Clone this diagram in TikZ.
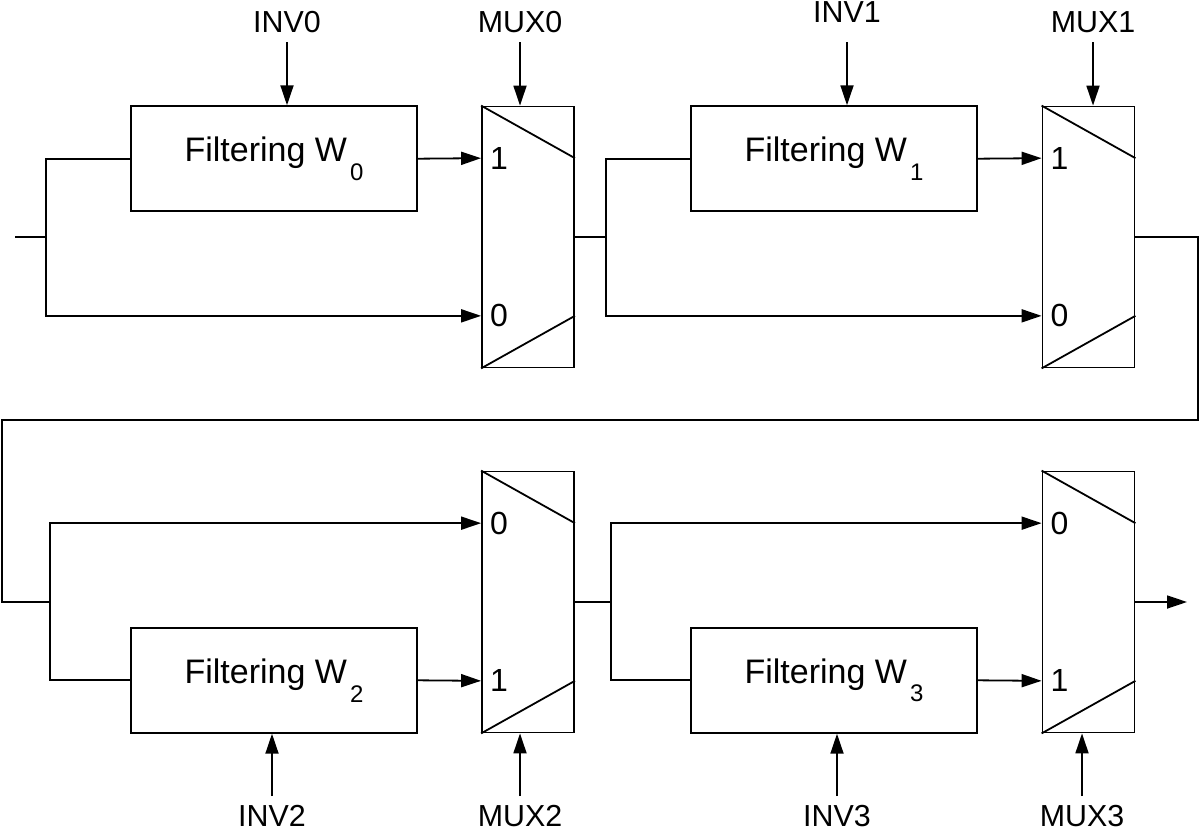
\documentclass[tikz,border=0pt]{standalone}
\usepackage{fontspec}
\setmainfont{Liberation Sans}
\usetikzlibrary{calc,arrows.meta}
\newcommand{\wsub}[1]{W\kern1.5pt\raisebox{-1.05ex}{\fontsize{12}{12}\selectfont #1}}

\begin{document}
\begin{tikzpicture}[x=0.5pt, y=-0.5pt, line width=0.9pt,
    filt/.style={draw, minimum width=143pt, minimum height=52.5pt, inner sep=0pt,
      font=\fontsize{17}{20}\selectfont},
    mux/.style={draw, minimum width=46pt, minimum height=130.5pt, inner sep=0pt},
    sel/.style={font=\fontsize{15.2}{16}\selectfont, inner sep=4pt},
    pin/.style={font=\fontsize{16}{16}\selectfont, anchor=west, inner sep=0pt, xshift=4pt},
    sig/.style={-{Triangle[length=10pt,width=6.5pt]}}]
  \useasboundingbox (0,0) rectangle (1200,830);

  % filters and muxes
  \node[filt] (w0) at (274,158.7) {Filtering \wsub{0}};
  \node[mux] (m0) at (528,237) {};
  \node[filt] (w1) at (834,158.7) {Filtering \wsub{1}};
  \node[mux] (m1) at (1088.5,237) {};
  \node[filt] (w2) at (274,680.3) {Filtering \wsub{2}};
  \node[mux] (m2) at (528,602) {};
  \node[filt] (w3) at (834,680.3) {Filtering \wsub{3}};
  \node[mux] (m3) at (1088.5,602) {};

  \foreach \m in {m0,m1,m2,m3} {
    \draw (\m.north west) -- ($(\m.north east)!0.2!(\m.south east)$);
    \draw (\m.south west) -- ($(\m.south east)!0.2!(\m.north east)$);
    \coordinate (\m-up) at ($(\m.north west)!0.2!(\m.south west)$);
    \coordinate (\m-dn) at ($(\m.north west)!0.8!(\m.south west)$);
  }

  % mux inputs
  \node[pin] at (m0-up) {1};
  \node[pin] at (m0-dn) {0};
  \node[pin] at (m1-up) {1};
  \node[pin] at (m1-dn) {0};
  \node[pin] at (m2-up) {0};
  \node[pin] at (m2-dn) {1};
  \node[pin] at (m3-up) {0};
  \node[pin] at (m3-dn) {1};

  % signal path
  \coordinate (in) at (15,237);
  \coordinate (s0) at (46,237);
  \coordinate (s1) at (606,237);
  \coordinate (r) at (1198,420);
  \coordinate (l) at (2,420);
  \coordinate (s2) at (50,602);
  \coordinate (s3) at (611,602);
  \coordinate (out) at (1187,602);

  \draw (in) -- (s0);
  \draw[sig] (w0.west) -| (s0) |- (m0-dn);
  \draw[sig] (w0.east) -- (m0-up);
  \draw (m0.east) -- (s1);
  \draw[sig] (w1.west) -| (s1) |- (m1-dn);
  \draw[sig] (w1.east) -- (m1-up);
  \draw (m1.east) -| (r) -- (l) |- (s2);
  \draw[sig] (w2.west) -| (s2) |- (m2-up);
  \draw[sig] (w2.east) -- (m2-dn);
  \draw (m2.east) -- (s3);
  \draw[sig] (w3.west) -| (s3) |- (m3-up);
  \draw[sig] (w3.east) -- (m3-dn);
  \draw[sig] (m3.east) -- (out);

  % control inputs
  \node[sel, anchor=south] (inv0) at (287,42) {INV0};
  \node[sel, anchor=south] (mux0) at (520,42) {MUX0};
  \node[sel, anchor=south, inner ysep=9.5pt] (inv1) at (847,42) {INV1};
  \node[sel, anchor=south] (mux1) at (1093,42) {MUX1};
  \node[sel, anchor=north] (inv2) at (272,796) {INV2};
  \node[sel, anchor=north] (mux2) at (520,796) {MUX2};
  \node[sel, anchor=north] (inv3) at (837,796) {INV3};
  \node[sel, anchor=north] (mux3) at (1082,796) {MUX3};

  \draw[sig] (inv0) -- (inv0 |- w0.north);
  \draw[sig] (mux0) -- (mux0 |- m0.north);
  \draw[sig] (inv1) -- (inv1 |- w1.north);
  \draw[sig] (mux1) -- (mux1 |- m1.north);
  \draw[sig] (inv2) -- (inv2 |- w2.south);
  \draw[sig] (mux2) -- (mux2 |- m2.south);
  \draw[sig] (inv3) -- (inv3 |- w3.south);
  \draw[sig] (mux3) -- (mux3 |- m3.south);
\end{tikzpicture}
\end{document}
